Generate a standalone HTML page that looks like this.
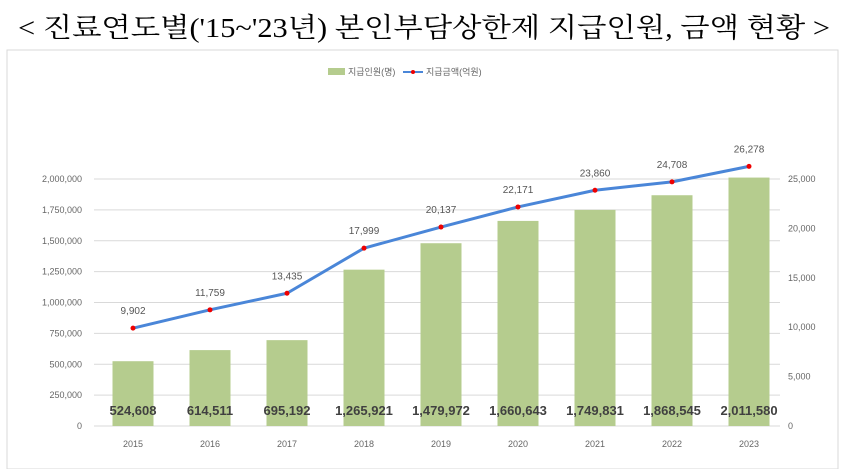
<!DOCTYPE html>
<html><head><meta charset="utf-8"><style>
body{margin:0;background:#fff;width:844px;height:469px;overflow:hidden}
svg text{font-family:"Liberation Sans","Noto Sans CJK KR",sans-serif}
</style></head><body>
<svg width="844" height="469">
<text x="18" y="37" textLength="812" lengthAdjust="spacingAndGlyphs" font-size="27" style="font-family:'Liberation Serif','Noto Serif CJK SC',serif">&lt; 진료연도별('15~'23년) 본인부담상한제 지급인원, 금액 현황 &gt;</text>
<rect x="7" y="50" width="831" height="419" fill="#fff" stroke="#d9d9d9"/>
<g>
<rect x="328" y="68" width="17" height="7" fill="#b5cc8e"/>
<text x="348" y="75" font-size="9" fill="#666">지급인원(명)</text>
<line x1="403" y1="72" x2="423" y2="72" stroke="#4a86d8" stroke-width="2"/>
<circle cx="413" cy="72" r="2" fill="#e00"/>
<text x="426" y="75" font-size="9" fill="#666">지급금액(억원)</text>
</g>
<g id="grid"></g><g id="bars"></g><g id="line"></g><g id="labels"></g>
</svg>
<script>
const categories=['2015','2016','2017','2018','2019','2020','2021','2022','2023'];
const people=[524608,614511,695192,1265921,1479972,1660643,1749831,1868545,2011580];
const amounts=[9902,11759,13435,17999,20137,22171,23860,24708,26278];
const leftTicks=[0,250000,500000,750000,1000000,1250000,1500000,1750000,2000000];
const rightTicks=[0,5000,10000,15000,20000,25000];
const NS='http://www.w3.org/2000/svg';
const y0=426,ytop=179,x0=94,x1=780,x0c=133,step=77;
const yL=v=>y0-(v/2000000)*(y0-ytop);
const yR=v=>y0-(v/25000)*(y0-ytop);
const xC=i=>x0c+i*step;
const fmt=v=>v.toLocaleString('en-US');
function mk(tag,attrs,parent,text){const e=document.createElementNS(NS,tag);for(const k in attrs)e.setAttribute(k,attrs[k]);if(text!==undefined)e.textContent=text;document.getElementById(parent).appendChild(e);return e;}
leftTicks.forEach(t=>{
 const l=mk('line',{x1:x0,x2:x1,y1:yL(t),y2:yL(t),stroke:'#d9d9d9'},'grid');
 
 
 const tx=mk('text',{x:82,y:yL(t)+3,'text-anchor':'end','font-size':9,fill:'#666'},'grid',fmt(t));
 
 
});
rightTicks.forEach(t=>{
 const tx=mk('text',{x:788,y:yR(t)+3,'font-size':9,fill:'#666'},'grid',fmt(t));
 
 
});
categories.forEach((c,i)=>{
 const b=mk('rect',{x:xC(i)-20.5,y:yL(people[i]),width:41,height:y0-yL(people[i]),fill:'#b5cc8e'},'bars');
 
 
 const v=mk('text',{x:xC(i),y:415,'text-anchor':'middle','font-size':13,'font-weight':'bold',fill:'#404040'},'labels',fmt(people[i]));
 
 
 const xl=mk('text',{x:xC(i),y:447,'text-anchor':'middle','font-size':9,fill:'#666'},'labels',c);
 
 
});
const pts=amounts.map((a,i)=>xC(i)+','+yR(a)).join(' ');
const pl=mk('polyline',{points:pts,fill:'none',stroke:'#4a86d8','stroke-width':3,'stroke-linejoin':'round'},'line');


amounts.forEach((a,i)=>{
 const c=mk('circle',{cx:xC(i),cy:yR(a),r:2.5,fill:'#e00'},'line');
 
 
 const t=mk('text',{x:xC(i),y:yR(a)-14,'text-anchor':'middle','font-size':10,fill:'#555'},'labels',fmt(a));
 
 
});
</script>
</body></html>
